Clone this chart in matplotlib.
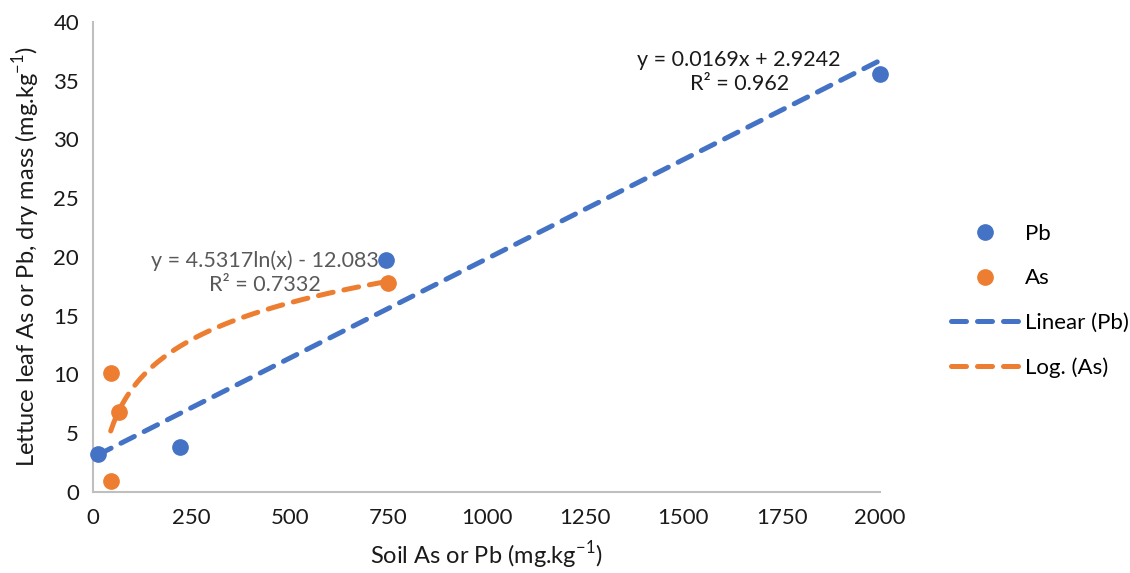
import numpy as np
import matplotlib
matplotlib.use("Agg")
import matplotlib.pyplot as plt

plt.rcParams['font.family'] = ['Lato', 'DejaVu Sans']
plt.rcParams['mathtext.fontset'] = 'custom'
plt.rcParams['mathtext.rm'] = 'Lato'

# Data
pb_x = [12, 220, 745, 2000]
pb_y = [3.2, 3.8, 19.7, 35.6]
as_x = [45, 47, 65, 750]
as_y = [0.9, 10.1, 6.8, 17.8]

# Trendline coefficients (as shown on the chart)
lin_slope, lin_intercept = 0.0169, 2.9242
log_a, log_b = 4.5317, -12.083
lin_label = "y = 0.0169x + 2.9242\nR² = 0.962"
log_label = "y = 4.5317ln(x) - 12.083\nR² = 0.7332"

x_ticks = [0, 250, 500, 750, 1000, 1250, 1500, 1750, 2000]
y_ticks = [0, 5, 10, 15, 20, 25, 30, 35, 40]

blue = '#4472C4'
orange = '#ED7D31'

fig = plt.figure(figsize=(11.3, 5.73), dpi=100)
ax = fig.add_axes([0.0823, 0.142, 0.6965, 0.8196])

xl = np.linspace(min(pb_x), max(pb_x), 200)
xg = np.linspace(min(as_x), max(as_x), 200)

ax.plot(xl, lin_slope * xl + lin_intercept, color=blue, lw=3.6, ls=(0, (3.0, 2.2)),
        dash_capstyle='round', label='Linear (Pb)', zorder=2)
ax.plot(xg, log_a * np.log(xg) + log_b, color=orange, lw=3.6, ls=(0, (3.0, 2.2)),
        dash_capstyle='round', label='Log. (As)', zorder=2)
ax.plot(pb_x, pb_y, 'o', color=blue, ms=11, label='Pb', zorder=3, clip_on=False)
ax.plot(as_x, as_y, 'o', color=orange, ms=11, label='As', zorder=3, clip_on=False)

ax.text(1642, 35.75, lin_label, ha='center', va='center', fontsize=15.5,
        color='#1a1a1a', linespacing=1.2)
ax.text(437, 18.65, log_label, ha='center', va='center', fontsize=15.5,
        color='#595959', linespacing=1.2)

ax.set_xlim(0, 2000)
ax.set_ylim(0, 40)
ax.set_xticks(x_ticks)
ax.set_yticks(y_ticks)
ax.tick_params(length=0, labelsize=16, colors='#1a1a1a', pad=12)
ax.tick_params(axis='y', pad=10)
for s in ['top', 'right']:
    ax.spines[s].set_visible(False)
for s in ['left', 'bottom']:
    ax.spines[s].set_color('#BFBFBF')
    ax.spines[s].set_linewidth(1.5)

ax.set_xlabel('Soil As or Pb (mg.kg$^{-1}$)', fontsize=17, color='#1a1a1a', labelpad=8)
ax.set_ylabel('Lettuce leaf As or Pb, dry mass (mg.kg$^{-1}$)', fontsize=17,
              color='#1a1a1a', labelpad=8)

handles, labels = ax.get_legend_handles_labels()
order = [2, 3, 0, 1]
leg = ax.legend([handles[i] for i in order], [labels[i] for i in order],
                loc='center left', bbox_to_anchor=(1.065, 0.406), frameon=False,
                fontsize=16, handlelength=3.0, labelspacing=1.1, handletextpad=0.3)

fig.savefig('out.png', dpi=100)
